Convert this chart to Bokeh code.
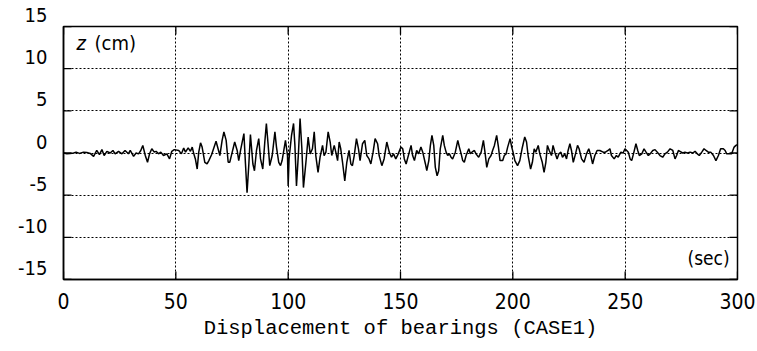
import math
from bokeh.plotting import figure
from bokeh.models import FixedTicker, Label, Range1d
from bokeh.embed import file_html
from bokeh.resources import INLINE

# time (sec) and displacement z (cm) (turning points)
time_s = [0.0, 1.5, 3.0, 4.5, 5.6, 7.1, 8.9, 10.4, 11.9, 13.4, 14.8, 16.0, 17.1, 18.1, 19.3, 20.8,
          22.0, 23.0, 24.5, 26.0, 27.4, 28.9, 29.7, 31.2, 32.3, 33.4, 34.4, 35.3, 36.4, 37.4, 38.3,
          39.3, 40.4, 41.2, 42.3, 43.3, 44.5, 46.0, 47.2, 48.2, 49.3,
          51.3, 52.5, 53.5, 54.3, 55.5, 56.5, 57.3, 58.0, 58.7, 59.5, 60.2, 61.0, 61.7, 62.9,
          63.9, 64.7, 65.9, 66.9, 67.9, 68.8, 69.6, 70.6, 71.4, 72.4, 73.3, 74.0, 75.1, 76.2,
          77.3, 78.0, 78.8, 80.3, 81.0, 81.7, 82.5, 83.2, 84.3, 85.0, 85.9, 86.9, 87.7, 88.7,
          89.6, 90.3, 91.1, 91.8, 92.9, 94.1, 94.8, 95.8, 96.6, 97.3, 98.8, 99.7, 100.0,
          100.4, 101.5, 102.4, 103.0, 103.7, 104.6, 105.3, 106.1, 106.8, 107.9, 108.9, 109.8,
          110.8, 111.6, 112.3, 113.3, 114.2, 115.3, 116.0, 116.8, 117.8, 118.7, 119.4, 120.5,
          121.2, 122.0, 122.7, 123.4, 124.2, 125.2, 126.1, 127.1, 127.9, 128.6, 129.4, 130.4,
          131.3, 132.0, 133.1, 134.1, 135.0, 136.0, 136.8, 137.8, 138.7, 139.8, 140.5, 141.7,
          142.7, 143.9, 145.0, 146.0, 146.9, 147.9, 149.0,
          150.2, 151.0, 151.7, 152.5, 153.7, 154.7, 155.4, 156.2, 157.2, 158.1, 159.1, 159.9,
          161.1, 161.7, 162.6, 163.3, 164.0, 164.8, 165.5, 166.3, 167.0, 167.7, 168.8, 169.5,
          170.3, 171.0, 171.8, 172.5, 173.2, 174.4, 175.5, 176.2, 177.0, 177.7, 178.4, 179.2,
          180.4, 181.1, 181.8, 182.9, 183.6, 184.8, 185.9, 186.9, 187.6, 188.4, 189.3, 190.3,
          191.0, 191.8, 192.8, 193.6, 194.3, 195.5, 196.2, 197.0, 197.7, 198.8, 199.5,
          200.1, 200.9, 202.1, 203.1, 204.1, 205.3, 206.1, 206.8, 207.9, 208.7, 209.5, 210.2,
          211.3, 212.0, 213.1, 213.9, 214.7, 215.4, 216.2, 217.2, 217.9, 218.7, 219.7, 220.5,
          221.4, 222.1, 223.1, 223.9, 224.6, 225.4, 226.1, 226.9, 227.9, 228.8, 229.5, 230.6,
          231.7, 232.8, 233.8, 234.7, 235.5, 236.5, 237.5, 238.7, 240.2, 241.2, 242.4, 243.2,
          243.9, 245.1, 246.1, 246.9, 248.1, 249.1,
          249.9, 250.7, 251.4, 252.2, 252.9, 253.7, 254.8, 255.6, 256.3, 257.4, 258.4, 259.3,
          260.3, 261.1, 262.3, 263.3, 264.3, 265.5, 266.7, 267.7, 268.8, 270.0, 271.2, 272.2,
          272.9, 273.7, 274.4, 275.6, 276.6, 277.7, 278.9, 280.1, 281.1, 282.1, 283.0, 284.1,
          285.1, 286.0, 287.0, 288.1, 289.3, 290.4, 291.5, 292.5, 293.7, 294.5, 295.2, 296.4,
          297.4, 298.5, 299.3, 300.0]

z_cm = [0.0, -0.1, -0.05, 0.0, 0.1, -0.05, 0.1, 0.05, -0.05, -0.4, 0.3, -0.2, 0.4, -0.3, 0.2, 0.0,
        0.3, -0.1, 0.2, -0.1, 0.3, -0.1, 0.3, -0.4, 0.0, -0.1, 0.3, 0.9, -0.3, -1.1, -0.1,
        0.5, 0.1, 0.2, -0.1, 0.1, -0.3, -0.1, -0.7, 0.2, 0.4,
        0.3, -0.1, 0.6, 0.1, 0.6, 0.2, 0.7, -0.1, -0.7, -1.9, 0.1, 1.2, 0.7, -1.1,
        -1.3, -0.9, -0.2, 0.6, 1.4, 0.5, -0.3, 1.5, 2.5, 1.5, -1.1, -1.1, 0.1, 1.3,
        0.3, -0.9, 0.3, 2.3, -1.3, -4.7, -1.3, 2.2, -1.3, -2.1, 0.3, 1.7, -0.7, -1.9,
        1.3, 3.5, 0.9, -1.5, -0.3, 2.5, 0.7, -1.1, -1.5, -0.9, 1.5, -0.3, -3.9,
        -0.7, 2.1, 3.5, 0.9, -3.9, 0.1, 4.1, 0.5, -4.1, -1.1, 1.9, -0.1,
        0.5, 2.5, -0.3, -2.3, -0.5, 0.9, -0.3, 0.1, 2.5, 1.3, -0.3, 0.9,
        0.1, -0.9, 1.3, 0.5, -1.1, -3.3, -1.1, 0.3, -1.3, -1.5, -0.3, 1.7,
        0.5, -0.9, 1.1, 1.5, -0.3, -0.7, -1.3, 0.1, 1.7, 1.1, -0.3, -1.5,
        -0.7, 1.3, 0.1, -0.5, -0.1, -0.7, -0.1,
        0.7, 0.5, -0.7, -1.3, -0.1, 0.9, -0.3, -0.9, 0.3, -0.1, 0.7, 0.1,
        -1.3, -2.1, -0.9, 0.9, 2.1, 0.9, -1.7, -2.7, -2.1, 0.5, 2.1, 0.9,
        0.1, -0.3, -0.1, -0.5, -0.7, 0.1, 1.5, 0.7, -0.1, -0.9, -1.1, -0.3,
        0.5, -0.1, 0.1, 0.3, -0.1, -0.5, 0.1, 1.5, 0.1, -1.7, -0.7, -0.3,
        0.3, 0.9, 2.1, 0.7, -0.9, -0.9, -0.3, -0.1, 0.7, 1.7, 0.7,
        0.1, -0.9, -1.5, -0.9, 0.5, 1.9, 1.3, -0.3, -1.9, -1.1, 0.5, 0.1,
        0.9, -0.1, -1.1, -2.3, -1.1, 0.9, 0.3, -0.3, 0.9, 0.1, -0.7, -0.1,
        0.1, -0.5, -0.1, -0.7, 0.3, 1.1, 0.3, -1.1, -0.1, 0.9, 0.5, -0.7,
        -1.1, -0.1, 0.5, -0.3, -1.3, -0.3, 0.3, 0.3, 0.1, 0.1, 0.3, 0.5,
        -0.3, -0.7, -0.3, -0.5, 0.1, 0.0,
        0.5, 0.3, 0.1, -0.7, -0.9, -0.1, 1.1, 0.3, -0.3, -0.1, 0.5, 0.1,
        -0.3, -0.1, 0.3, 0.4, 0.1, -0.3, -0.5, -0.1, 0.1, 0.5, 0.3, -0.7,
        -0.3, 0.3, 0.2, 0.0, 0.1, 0.0, 0.1, 0.0, 0.2, -0.1, -0.3, 0.1,
        0.5, 0.3, 0.1, 0.1, -0.3, -0.9, -0.3, 0.5, 0.5, 0.3, -0.1, -0.1,
        -0.1, 0.7, 0.9, 1.0]

x_ticks = [0, 50, 100, 150, 200, 250, 300]
y_ticks = [-15, -10, -5, 0, 5, 10, 15]
y_tick_labels = ["-15", "-10", "-5", "0", "5", "10", "15"]
x_label = "Displacement of bearings (CASE1)"

NARROW = "'Liberation Sans Narrow', 'DejaVu Sans Condensed', 'Liberation Mono'"
MONO = "Liberation Mono"

X0, X1, Y0, Y1 = 0, 300, -15, 15
p = figure(width=757, height=351, output_backend="svg", toolbar_location=None,
           x_range=Range1d(X0, X1), y_range=Range1d(Y0, Y1),
           min_border_left=63, min_border_right=20, min_border_top=26, min_border_bottom=72)
p.background_fill_color = "white"
p.border_fill_color = "white"
p.outline_line_color = "black"
p.outline_line_width = 1.5

# grid
p.xgrid.ticker = FixedTicker(ticks=x_ticks)
p.ygrid.ticker = FixedTicker(ticks=y_ticks)
for g in (p.xgrid[0], p.ygrid[0]):
    g.grid_line_color = "black"
    g.grid_line_dash = "2 2"
    g.grid_line_width = 1

# inward tick marks on all four sides (clipped by the frame)
p.scatter([X0] * len(y_ticks), y_ticks, marker="dash", size=16, line_color="black", line_width=1.3)
p.scatter([X1] * len(y_ticks), y_ticks, marker="dash", size=16, line_color="black", line_width=1.3)
p.scatter(x_ticks, [Y0] * len(x_ticks), marker="dash", size=16, angle=math.pi / 2,
          line_color="black", line_width=1.3)
p.scatter(x_ticks, [Y1] * len(x_ticks), marker="dash", size=16, angle=math.pi / 2,
          line_color="black", line_width=1.3)

p.line(time_s, z_cm, line_color="black", line_width=1.5)

# x axis
p.xaxis.ticker = FixedTicker(ticks=x_ticks)
xa = p.xaxis[0]
xa.axis_line_color = "black"
xa.axis_line_width = 1.5
xa.major_tick_line_color = None
xa.minor_tick_line_color = None
xa.major_label_text_font = NARROW
xa.major_label_text_font_size = "21px"
xa.major_label_text_color = "black"
xa.major_label_standoff = 7
xa.axis_label = x_label
xa.axis_label_text_font = MONO
xa.axis_label_text_font_size = "20.5px"
xa.axis_label_text_font_style = "normal"
xa.axis_label_text_color = "black"
xa.axis_label_standoff = 5

# y axis: labels sit just above their tick value (second empty line lifts them)
p.yaxis.ticker = FixedTicker(ticks=y_ticks)
ya = p.yaxis[0]
ya.axis_line_color = "black"
ya.axis_line_width = 1.5
ya.major_tick_line_color = None
ya.minor_tick_line_color = None
ya.major_label_text_font = NARROW
ya.major_label_text_font_size = "20px"
ya.major_label_text_color = "black"
ya.major_label_text_line_height = 0.95
ya.major_label_standoff = 10
ya.major_label_overrides = {v: t + "\n " for v, t in zip(y_ticks, y_tick_labels)}

p.add_layout(Label(x=5.8, y=13.1, text="z", text_font="Liberation Sans",
                   text_font_style="italic", text_font_size="20px",
                   text_baseline="middle", text_color="black"))
p.add_layout(Label(x=13.8, y=13.1, text="(cm)", text_font=NARROW, text_font_size="20px",
                   text_baseline="middle", text_color="black"))
p.add_layout(Label(x=296.5, y=-12.5, text="(sec)", text_font=NARROW, text_font_size="19px",
                   text_baseline="middle", text_align="right", text_color="black"))

open("out.html", "w").write(file_html(p, INLINE))
